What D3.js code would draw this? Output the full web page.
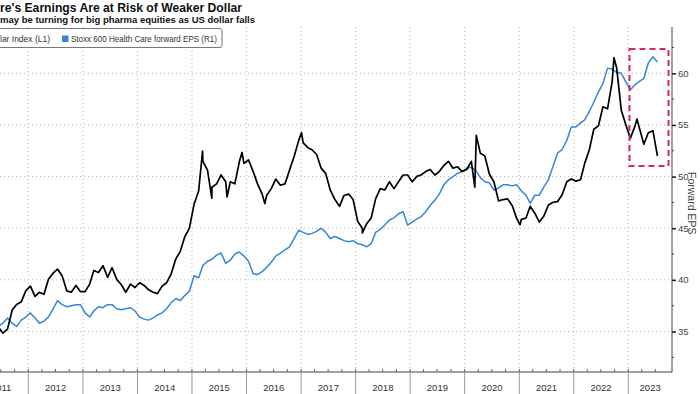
<!DOCTYPE html>
<html>
<head>
<meta charset="utf-8">
<script src="https://cdn.jsdelivr.net/npm/d3@7"></script>
<style>
  body { margin: 0; background: #fff; }
  svg { display: block; font-family: "Liberation Sans", Arial, sans-serif; }
</style>
</head>
<body>
<script>
// Monthly series (mid-month), starting May 2011
const firstMonth = new Date(2011, 4, 15);

// US Dollar Index (left axis, not shown)
const dxyMonthly = [
  74.0, 74.5, 73.6, 74.2, 77.0, 77.8, 78.2, 79.8, // 2011 May-Dec
  80.5, 79.0, 79.6, 79.3, 81.5, 82.4, 83.0, 82.0, 79.8, 79.6, 80.6, 79.7, // 2012
  79.7, 80.8, 82.8, 82.5, 83.5, 81.8, 83.2, 81.5, 80.7, 79.6, 80.8, 80.3, // 2013
  81.0, 80.6, 80.0, 79.6, 79.4, 80.5, 81.0, 82.3, 84.5, 85.6, 87.8, 89.0, // 2014
  92.5, 94.5, 98.8, 97.5, 95.0, 95.5, 96.8, 95.8, 95.8, 95.5, 98.8, 98.5, // 2015
  99.0, 97.3, 95.5, 94.0, 93.8, 94.8, 96.2, 95.3, 95.5, 97.5, 99.5, 101.8, // 2016
  101.5, 100.8, 100.5, 99.8, 97.8, 97.0, 94.6, 93.2, 92.2, 93.8, 94.0, 93.2, // 2017
  90.0, 89.0, 89.6, 90.5, 93.3, 94.8, 94.6, 95.8, 94.8, 95.8, 96.8, 96.8, // 2018
  95.8, 96.6, 96.8, 97.3, 97.6, 96.8, 97.3, 98.2, 98.8, 97.8, 98.0, 97.3, // 2019
  97.6, 98.8, 99.5, 100.0, 99.6, 96.9, 95.8, 93.0, 93.2, 93.3, 92.3, 90.4, // 2020
  90.3, 90.5, 92.2, 91.2, 89.9, 90.8, 92.4, 92.8, 92.9, 93.9, 95.8, 96.2, // 2021
  95.9, 96.1, 98.5, 100.5, 103.5, 104.0, 106.8, 106.5, 110.5, 112.5, 106.3, 104.2, // 2022
  102.2, 104.0, 103.8, 101.3, 103.0, 103.3, 99.6 // 2023 Jan-Jul
];

// Daily extremes visible in the picture
const dxyExtra = [
  ["2015-03-13", 100.3],
  ["2015-05-14", 93.4],
  ["2015-08-24", 93.6],
  ["2015-12-02", 100.1],
  ["2016-05-03", 92.6],
  ["2017-01-03", 103.0],
  ["2018-02-15", 88.3],
  ["2020-03-09", 95.0],
  ["2020-03-19", 102.6],
  ["2021-01-06", 89.5],
  ["2022-09-27", 114.0],
  ["2023-02-28", 105.0]
];

// Stoxx 600 Health Care forward EPS (right axis)
const epsMonthly = [
  35.3, 35.5, 35.8, 36.3, 35.8, 35.5, 36.1, 36.4, // 2011 May-Dec
  36.8, 36.3, 35.8, 36.0, 36.4, 37.2, 38.0, 37.6, 37.4, 37.5, 37.6, 37.6, // 2012
  36.8, 36.4, 37.0, 37.4, 37.3, 37.6, 37.6, 37.2, 37.1, 37.2, 37.3, 37.0, // 2013
  36.4, 36.2, 36.1, 36.3, 36.6, 36.8, 37.2, 37.8, 38.2, 38.0, 38.5, 38.9, // 2014
  40.4, 40.2, 41.4, 41.8, 42.0, 42.4, 42.6, 41.6, 41.9, 42.5, 42.7, 42.3, // 2015
  41.8, 40.6, 40.5, 40.8, 41.2, 41.7, 42.3, 42.6, 42.9, 43.2, 44.0, 44.8, // 2016
  44.6, 44.4, 44.5, 44.7, 45.0, 44.6, 44.0, 44.2, 44.0, 43.8, 43.7, 43.8, // 2017
  43.5, 43.4, 43.2, 43.5, 44.6, 44.9, 45.3, 45.8, 46.0, 46.4, 46.6, 45.3, // 2018
  45.6, 45.9, 46.1, 46.6, 47.2, 47.7, 48.3, 49.2, 49.7, 50.0, 50.3, 50.5, // 2019
  50.8, 50.9, 50.6, 49.9, 49.5, 49.4, 48.7, 48.9, 49.2, 49.2, 49.1, 49.2, // 2020
  48.6, 48.2, 47.4, 48.2, 48.2, 49.0, 49.7, 51.0, 52.3, 52.6, 53.5, 54.8, // 2021
  54.8, 55.2, 55.5, 56.3, 57.2, 58.2, 59.0, 60.5, 60.4, 60.1, 60.0, 59.2, // 2022
  58.4, 58.9, 59.2, 59.5, 61.0, 61.6, 61.1 // 2023 Jan-Jul
];

const rightTicks = [35, 40, 45, 50, 55, 60];
const yearLabels = ["2011", "2012", "2013", "2014", "2015", "2016", "2017",
  "2018", "2019", "2020", "2021", "2022", "2023"];

const W = 700, H = 394;
const plotTop = 27, axisY = 372, axisX = 672;

const parse = d3.timeParse("%Y-%m-%d");
const monthDate = (i) => d3.timeMonth.offset(firstMonth, i);

const dxy = dxyMonthly.map((v, i) => ({ date: monthDate(i), v }))
  .concat(dxyExtra.map(([d, v]) => ({ date: parse(d), v })))
  .sort((a, b) => a.date - b.date);
const eps = epsMonthly.map((v, i) => ({ date: monthDate(i), v }));

// scales (left edge of the chart is cropped, so the time scale runs off-canvas)
const x = d3.scaleTime()
  .domain([new Date(2012, 0, 1), new Date(2023, 0, 1)])
  .range([28.3, 628.3]);
const yR = d3.scaleLinear().domain([35, 60]).range([331.5, 73.3]);
const yL = d3.scaleLinear().domain([73.85, 111.71]).range([331.5, 73.3]);

const svg = d3.select("body").append("svg")
  .attr("width", W)
  .attr("height", H);

// gridlines
const years = yearLabels.map((y) => new Date(+y, 0, 1)).concat([new Date(2024, 0, 1)]);
svg.append("g")
  .selectAll("line")
  .data(years.slice(1, -1))
  .enter()
  .append("line")
  .attr("x1", (d) => x(d)).attr("x2", (d) => x(d))
  .attr("y1", plotTop).attr("y2", axisY)
  .attr("stroke", "#b5b5b5")
  .attr("stroke-dasharray", "1,3");
svg.append("g")
  .selectAll("line")
  .data(rightTicks)
  .enter()
  .append("line")
  .attr("x1", 0).attr("x2", axisX)
  .attr("y1", (d) => yR(d)).attr("y2", (d) => yR(d))
  .attr("stroke", "#b5b5b5")
  .attr("stroke-dasharray", "1,3");

// series
const lineL = d3.line().x((d) => x(d.date)).y((d) => yL(d.v));
const lineR = d3.line().x((d) => x(d.date)).y((d) => yR(d.v));

svg.append("path")
  .datum(eps)
  .attr("d", lineR)
  .attr("fill", "none")
  .attr("stroke", "#3487d6")
  .attr("stroke-width", 1.5)
  .attr("stroke-linejoin", "round");

svg.append("path")
  .datum(dxy)
  .attr("d", lineL)
  .attr("fill", "none")
  .attr("stroke", "#000")
  .attr("stroke-width", 1.7)
  .attr("stroke-linejoin", "round");

// highlight box
svg.append("rect")
  .attr("x", 629.5).attr("y", 49)
  .attr("width", 39).attr("height", 117)
  .attr("fill", "none")
  .attr("stroke", "#d9285c")
  .attr("stroke-width", 2)
  .attr("stroke-dasharray", "6,4");

// bottom axis
svg.append("line")
  .attr("x1", 0).attr("x2", axisX)
  .attr("y1", axisY).attr("y2", axisY)
  .attr("stroke", "#444");
const quarters = d3.timeMonth.every(3).range(new Date(2011, 0, 1), new Date(2023, 9, 1));
svg.append("g")
  .selectAll("line")
  .data(quarters)
  .enter()
  .append("line")
  .attr("x1", (d) => x(d)).attr("x2", (d) => x(d))
  .attr("y1", axisY - 3).attr("y2", axisY)
  .attr("stroke", "#666");
svg.append("g")
  .selectAll("line")
  .data(years.slice(1, -1))
  .enter()
  .append("line")
  .attr("x1", (d) => x(d)).attr("x2", (d) => x(d))
  .attr("y1", axisY).attr("y2", H)
  .attr("stroke", "#999");
svg.append("g")
  .selectAll("text")
  .data(yearLabels)
  .enter()
  .append("text")
  .attr("x", (d, i) => {
    const right = Math.min(x(years[i + 1]), axisX);
    return (x(years[i]) + right) / 2;
  })
  .attr("y", 391)
  .attr("text-anchor", "middle")
  .style("font-size", "9.5px")
  .style("fill", "#333")
  .text((d) => d);

// right axis
svg.append("line")
  .attr("x1", axisX).attr("x2", axisX)
  .attr("y1", plotTop).attr("y2", axisY)
  .attr("stroke", "#444");
const yAxis = svg.append("g")
  .attr("transform", `translate(${axisX},0)`)
  .call(d3.axisRight(yR).tickValues(rightTicks).tickSize(4).tickPadding(2))
  .call((g) => g.select(".domain").remove());
yAxis.selectAll(".tick line").attr("stroke", "#222").attr("stroke-width", 1.6);
yAxis.selectAll(".tick text")
  .style("font-size", "9.5px")
  .style("fill", "#444")
  .style("font-family", "'Liberation Sans', Arial, sans-serif");
svg.append("g")
  .selectAll("line")
  .data([32.5, 37.5, 42.5, 47.5, 52.5, 57.5, 62.5])
  .enter()
  .append("line")
  .attr("x1", axisX).attr("x2", axisX + 2)
  .attr("y1", (d) => yR(d)).attr("y2", (d) => yR(d))
  .attr("stroke", "#444");

svg.append("text")
  .attr("transform", "translate(688,172) rotate(90)")
  .style("font-size", "10.5px")
  .style("fill", "#444")
  .text("Forward EPS");

// title / subtitle (left side is cropped in the source)
svg.append("text")
  .attr("x", 0).attr("y", 11.5)
  .attr("textLength", 242)
  .attr("lengthAdjust", "spacingAndGlyphs")
  .style("font-size", "13px")
  .style("font-weight", "bold")
  .style("fill", "#111")
  .text("re's Earnings Are at Risk of Weaker Dollar");
svg.append("text")
  .attr("x", 0).attr("y", 22.5)
  .attr("textLength", 255)
  .attr("lengthAdjust", "spacingAndGlyphs")
  .style("font-size", "8.5px")
  .style("font-weight", "bold")
  .style("fill", "#111")
  .text("may be turning for big pharma equities as US dollar falls");

// legend
const legend = svg.append("g");
legend.append("rect")
  .attr("x", -6).attr("y", 28.5)
  .attr("width", 228).attr("height", 19)
  .attr("rx", 2)
  .attr("fill", "#fff")
  .attr("stroke", "#777");
legend.append("text")
  .attr("x", 0).attr("y", 41.5)
  .attr("textLength", 50)
  .attr("lengthAdjust", "spacingAndGlyphs")
  .style("font-size", "9px")
  .style("fill", "#333")
  .text("lar Index (L1)");
legend.append("rect")
  .attr("x", 62).attr("y", 35.5)
  .attr("width", 6.5).attr("height", 6.5)
  .attr("fill", "#3487d6");
legend.append("text")
  .attr("x", 71).attr("y", 41.5)
  .attr("textLength", 146)
  .attr("lengthAdjust", "spacingAndGlyphs")
  .style("font-size", "9px")
  .style("fill", "#333")
  .text("Stoxx 600 Health Care forward EPS (R1)");
</script>
</body>
</html>
